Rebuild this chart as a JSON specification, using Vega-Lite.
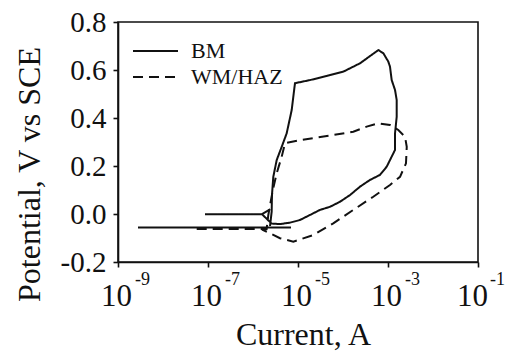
{
  "$schema": "https://vega.github.io/schema/vega-lite/v6.json",
  "width": 360,
  "height": 240,
  "autosize": {"type": "none"},
  "padding": {"left": 118, "top": 22, "right": 31, "bottom": 89},
  "background": "white",
  "config": {
    "font": "Liberation Serif",
    "view": {"stroke": "#111", "strokeWidth": 1.6},
    "style": {
      "guide-label": {"font": "Liberation Serif", "fill": "#111"},
      "guide-title": {"font": "Liberation Serif", "fill": "#111"}
    },
    "axis": {
      "domainColor": "#111", "domainWidth": 1.6,
      "tickColor": "#111", "tickWidth": 1.6, "tickSize": 5,
      "labelColor": "#111", "titleColor": "#111",
      "labelFont": "Liberation Serif", "titleFont": "Liberation Serif",
      "labelFontSize": 30, "titleFontSize": 32, "titleFontWeight": "normal",
      "grid": false
    }
  },
  "data": {"values": [
    {"s": "BM", "seg": "BMa", "o": 1, "I": 2.78e-9, "V": -0.056},
    {"s": "BM", "seg": "BMa", "o": 2, "I": 6.98e-6, "V": -0.056},

    {"s": "BM", "seg": "BMb", "o": 1, "I": 2.39e-6, "V": -0.05},
    {"s": "BM", "seg": "BMb", "o": 2, "I": 2.60e-6, "V": 0.010},
    {"s": "BM", "seg": "BMb", "o": 3, "I": 2.64e-6, "V": 0.079},
    {"s": "BM", "seg": "BMb", "o": 4, "I": 2.825e-6, "V": 0.155},
    {"s": "BM", "seg": "BMb", "o": 5, "I": 3.365e-6, "V": 0.225},
    {"s": "BM", "seg": "BMb", "o": 6, "I": 4.345e-6, "V": 0.280},
    {"s": "BM", "seg": "BMb", "o": 7, "I": 5.60e-6, "V": 0.336},
    {"s": "BM", "seg": "BMb", "o": 8, "I": 7.24e-6, "V": 0.433},
    {"s": "BM", "seg": "BMb", "o": 9, "I": 8.57e-6, "V": 0.545},
    {"s": "BM", "seg": "BMb", "o": 10, "I": 1.85e-5, "V": 0.558},
    {"s": "BM", "seg": "BMb", "o": 11, "I": 4.345e-5, "V": 0.575},
    {"s": "BM", "seg": "BMb", "o": 12, "I": 1.016e-4, "V": 0.593},
    {"s": "BM", "seg": "BMb", "o": 13, "I": 2.39e-4, "V": 0.628},
    {"s": "BM", "seg": "BMb", "o": 14, "I": 6.10e-4, "V": 0.683},
    {"s": "BM", "seg": "BMb", "o": 15, "I": 7.87e-4, "V": 0.670},
    {"s": "BM", "seg": "BMb", "o": 16, "I": 1.016e-3, "V": 0.635},
    {"s": "BM", "seg": "BMb", "o": 17, "I": 1.107e-3, "V": 0.614},
    {"s": "BM", "seg": "BMb", "o": 18, "I": 1.208e-3, "V": 0.558},
    {"s": "BM", "seg": "BMb", "o": 19, "I": 1.432e-3, "V": 0.517},
    {"s": "BM", "seg": "BMb", "o": 20, "I": 1.56e-3, "V": 0.475},
    {"s": "BM", "seg": "BMb", "o": 21, "I": 1.56e-3, "V": 0.405},
    {"s": "BM", "seg": "BMb", "o": 22, "I": 1.432e-3, "V": 0.336},
    {"s": "BM", "seg": "BMb", "o": 23, "I": 1.432e-3, "V": 0.267},
    {"s": "BM", "seg": "BMb", "o": 24, "I": 1.208e-3, "V": 0.239},
    {"s": "BM", "seg": "BMb", "o": 25, "I": 9.35e-4, "V": 0.197},
    {"s": "BM", "seg": "BMb", "o": 26, "I": 6.64e-4, "V": 0.163},
    {"s": "BM", "seg": "BMb", "o": 27, "I": 3.98e-4, "V": 0.142},
    {"s": "BM", "seg": "BMb", "o": 28, "I": 2.39e-4, "V": 0.114},
    {"s": "BM", "seg": "BMb", "o": 29, "I": 1.432e-4, "V": 0.079},
    {"s": "BM", "seg": "BMb", "o": 30, "I": 8.57e-5, "V": 0.051},
    {"s": "BM", "seg": "BMb", "o": 31, "I": 5.14e-5, "V": 0.030},
    {"s": "BM", "seg": "BMb", "o": 32, "I": 3.08e-5, "V": 0.017},
    {"s": "BM", "seg": "BMb", "o": 33, "I": 1.85e-5, "V": -0.004},
    {"s": "BM", "seg": "BMb", "o": 34, "I": 1.107e-5, "V": -0.025},
    {"s": "BM", "seg": "BMb", "o": 35, "I": 6.64e-6, "V": -0.036},
    {"s": "BM", "seg": "BMb", "o": 36, "I": 3.98e-6, "V": -0.042},
    {"s": "BM", "seg": "BMb", "o": 37, "I": 2.60e-6, "V": -0.040},
    {"s": "BM", "seg": "BMb", "o": 38, "I": 1.585e-6, "V": -0.001},
    {"s": "BM", "seg": "BMb", "o": 39, "I": 8.57e-8, "V": -0.001},

    {"s": "BM", "seg": "BMc", "o": 1, "I": 1.585e-6, "V": -0.001},
    {"s": "BM", "seg": "BMc", "o": 2, "I": 2.40e-6, "V": 0.02},

    {"s": "WM/HAZ", "seg": "W", "o": 1, "I": 5.61e-8, "V": -0.0625},
    {"s": "WM/HAZ", "seg": "W", "o": 2, "I": 2.01e-6, "V": -0.0625},
    {"s": "WM/HAZ", "seg": "W", "o": 3, "I": 2.19e-6, "V": -0.004},
    {"s": "WM/HAZ", "seg": "W", "o": 4, "I": 2.51e-6, "V": 0.058},
    {"s": "WM/HAZ", "seg": "W", "o": 5, "I": 2.825e-6, "V": 0.108},
    {"s": "WM/HAZ", "seg": "W", "o": 6, "I": 3.365e-6, "V": 0.170},
    {"s": "WM/HAZ", "seg": "W", "o": 7, "I": 4.345e-6, "V": 0.239},
    {"s": "WM/HAZ", "seg": "W", "o": 8, "I": 5.14e-6, "V": 0.295},
    {"s": "WM/HAZ", "seg": "W", "o": 9, "I": 1.107e-5, "V": 0.308},
    {"s": "WM/HAZ", "seg": "W", "o": 10, "I": 6.08e-5, "V": 0.329},
    {"s": "WM/HAZ", "seg": "W", "o": 11, "I": 1.694e-4, "V": 0.343},
    {"s": "WM/HAZ", "seg": "W", "o": 12, "I": 3.365e-4, "V": 0.364},
    {"s": "WM/HAZ", "seg": "W", "o": 13, "I": 6.08e-4, "V": 0.378},
    {"s": "WM/HAZ", "seg": "W", "o": 14, "I": 1.107e-3, "V": 0.371},
    {"s": "WM/HAZ", "seg": "W", "o": 15, "I": 1.694e-3, "V": 0.350},
    {"s": "WM/HAZ", "seg": "W", "o": 16, "I": 2.39e-3, "V": 0.322},
    {"s": "WM/HAZ", "seg": "W", "o": 17, "I": 2.61e-3, "V": 0.280},
    {"s": "WM/HAZ", "seg": "W", "o": 18, "I": 2.51e-3, "V": 0.211},
    {"s": "WM/HAZ", "seg": "W", "o": 19, "I": 1.85e-3, "V": 0.155},
    {"s": "WM/HAZ", "seg": "W", "o": 20, "I": 1.107e-3, "V": 0.121},
    {"s": "WM/HAZ", "seg": "W", "o": 21, "I": 4.71e-4, "V": 0.072},
    {"s": "WM/HAZ", "seg": "W", "o": 22, "I": 1.694e-4, "V": 0.017},
    {"s": "WM/HAZ", "seg": "W", "o": 23, "I": 6.08e-5, "V": -0.039},
    {"s": "WM/HAZ", "seg": "W", "o": 24, "I": 2.19e-5, "V": -0.0875},
    {"s": "WM/HAZ", "seg": "W", "o": 25, "I": 7.87e-6, "V": -0.115},
    {"s": "WM/HAZ", "seg": "W", "o": 26, "I": 3.98e-6, "V": -0.101},
    {"s": "WM/HAZ", "seg": "W", "o": 27, "I": 2.39e-6, "V": -0.080},
    {"s": "WM/HAZ", "seg": "W", "o": 28, "I": 1.585e-6, "V": -0.065}
  ]},
  "layer": [
    {
      "mark": {"type": "line", "color": "#111", "strokeWidth": 2},
      "encoding": {
        "x": {
          "field": "I", "type": "quantitative",
          "scale": {"type": "log", "domain": [1e-9, 0.1], "nice": false},
          "axis": {
            "orient": "bottom",
            "title": "Current, A",
            "values": [1e-9, 1e-7, 1e-5, 1e-3, 1e-1],
            "labelExpr": "'10'",
            "labelFont": "Liberation Serif",
            "titleFont": "Liberation Serif",
            "labelFontSize": 31,
            "labelPadding": 14,
            "labelOffset": {"condition": {"test": "datum.value > 0.01", "value": -6}, "value": -2},
            "titleY": 57,
            "titleX": 185,
            "labelFlush": false
          }
        },
        "y": {
          "field": "V", "type": "quantitative",
          "scale": {"domain": [-0.2, 0.8], "nice": false, "zero": false},
          "axis": {
            "title": "Potential, V vs SCE",
            "values": [-0.2, 0, 0.2, 0.4, 0.6, 0.8],
            "labelExpr": "replace(format(datum.value, '.1f'), '−', '-')",
            "labelFont": "Liberation Serif",
            "titleFont": "Liberation Serif",
            "labelFontSize": 29,
            "labelPadding": 7,
            "titlePadding": 14,
            "titleY": 152,
            "labelFlush": false
          }
        },
        "strokeDash": {
          "field": "s", "type": "nominal",
          "scale": {"domain": ["BM", "WM/HAZ"], "range": [[1, 0], [10, 6]]},
          "legend": {
            "title": null,
            "orient": "none",
            "legendX": 14,
            "legendY": 18,
            "padding": 0,
            "symbolType": "stroke",
            "symbolSize": 2025,
            "symbolStrokeWidth": 2,
            "symbolStrokeColor": "#111",
            "clipHeight": 22,
            "rowPadding": 4,
            "labelFont": "Liberation Serif",
            "labelFontSize": 22,
            "labelColor": "#111",
            "labelOffset": 12
          }
        },
        "detail": {"field": "seg", "type": "nominal"},
        "order": {"field": "o", "type": "quantitative"}
      }
    },
    {
      "mark": {"type": "line", "opacity": 0, "strokeWidth": 0},
      "encoding": {
        "x": {
          "field": "I", "type": "quantitative",
          "scale": {"type": "log", "domain": [1e-9, 0.1], "nice": false},
          "axis": {
            "orient": "bottom",
            "title": null,
            "domain": false,
            "ticks": false,
            "values": [1e-9, 1e-7, 1e-5, 1e-3, 1e-1],
            "labelExpr": "'-' + abs(round(log(datum.value)/LN10))",
            "labelFont": "Liberation Serif",
            "labelFontSize": 18,
            "labelPadding": 8,
            "labelOffset": {"condition": {"test": "datum.value > 0.01", "value": 19}, "value": 24},
            "labelFlush": false
          }
        },
        "y": {"field": "V", "type": "quantitative"},
        "detail": {"field": "seg", "type": "nominal"},
        "order": {"field": "o", "type": "quantitative"}
      }
    }
  ],
  "resolve": {"axis": {"x": "independent"}}
}
